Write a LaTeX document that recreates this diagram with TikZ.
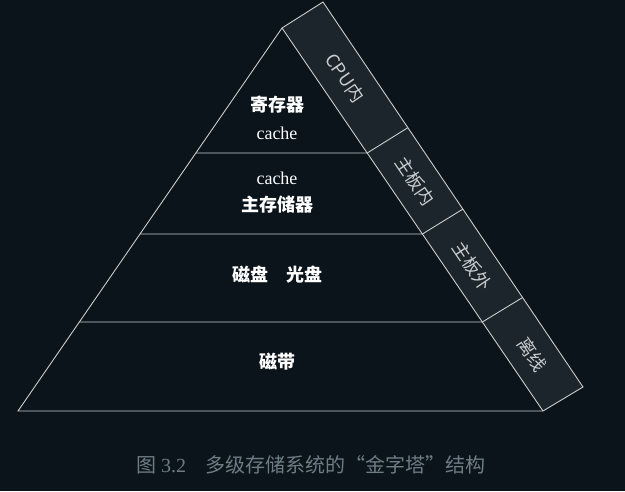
\documentclass[tikz,border=0pt]{standalone}
\usepackage{fontspec}
\setmainfont{Liberation Serif}
\newfontfamily\cjk{Noto Sans CJK SC}
\usetikzlibrary{positioning,calc}
\definecolor{bgdark}{HTML}{0B141A}
\definecolor{bandfill}{HTML}{1B252B}
\definecolor{edgegray}{HTML}{C8CDD0}
\definecolor{captiongray}{HTML}{6E7C83}
\tikzset{%
layer/.style={text=white,font=\fontsize{18}{21}\selectfont\cjk\bfseries,align=center,inner sep=1pt},
latinlayer/.style={text=white,font=\fontsize{18}{21}\selectfont,inner sep=1pt},
bandlabel/.style={text=edgegray,font=\fontsize{18}{21}\selectfont\cjk,rotate=-55.7,inner sep=1pt},
edge/.style={draw=edgegray,line width=0.9pt}
}
\begin{document}
\begin{tikzpicture}[x=1pt,y=-1pt]
  \fill[bgdark] (0,0) rectangle (625,491);
  \useasboundingbox (0,0) rectangle (625,491);

  % pyramid corners
  \coordinate (apex) at (282,28);
  \coordinate (bl) at (18,411);
  \coordinate (br) at (543,411);
  \coordinate (top) at (323,2);
  \coordinate (outer) at (583,387);

  % level marks on both sides
  \foreach \name/\t in {a/0.3264,b/0.5379,c/0.7676} {
    \coordinate (l\name) at ($(apex)!\t!(bl)$);
    \coordinate (r\name) at ($(apex)!\t!(br)$);
    \coordinate (o\name) at ($(top)!\t!(outer)$);
  }

  % side band
  \fill[bandfill] (apex) -- (top) -- (outer) -- (br) -- cycle;
  \draw[edge] (bl) -- (apex) -- (top) -- (outer) -- (br) -- cycle;
  \draw[edge] (apex) -- (br);
  \foreach \name in {a,b,c} {
    \draw[edge] (l\name) -- (r\name) -- (o\name);
  }

  % layer texts
  \node[layer] (regs) at (277,105) {寄存器};
  \node[latinlayer] (cacheA) at (277,133) {cache};
  \node[latinlayer] (cacheB) at (277,178) {cache};
  \node[layer] (mem) at (277,205) {主存储器};
  \node[layer] (disk) at (277,275) {磁盘\quad 光盘};
  \node[layer] (tape) at (277,362) {磁带};

  % band texts
  \node[bandlabel] (cpu) at ($(apex)!0.5!(oa)$) {CPU内};
  \node[bandlabel] (boardin) at ($(ra)!0.5!(ob)$) {主板内};
  \node[bandlabel] (boardout) at ($(rb)!0.5!(oc)$) {主板外};
  \node[bandlabel] (offline) at ($(rc)!0.5!(outer)$) {离线};

  % caption
  \node[text=captiongray,font=\fontsize{20}{24}\selectfont] (caption) at (311,465) {{\cjk 图} 3.2\quad{\cjk 多级存储系统的“金字塔”结构}};
\end{tikzpicture}
\end{document}
